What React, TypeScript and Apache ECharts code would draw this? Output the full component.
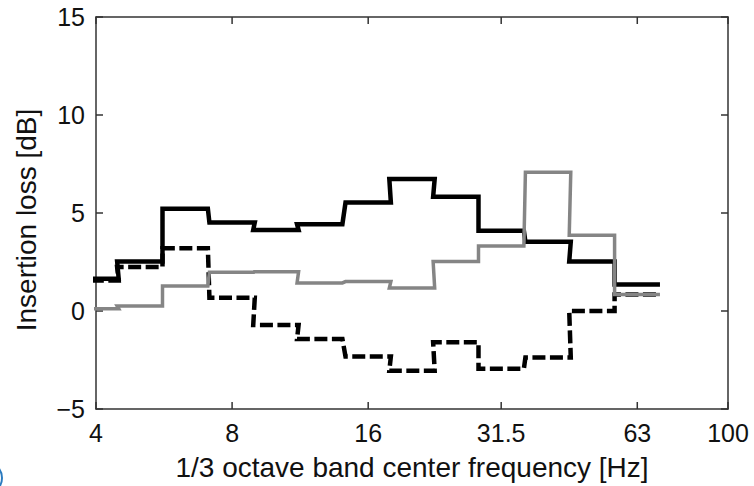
import React, { useEffect, useRef } from "react";
import * as echarts from "echarts";

// 1/3 octave band centre frequencies [Hz]
const bandCenters = [4, 5, 6.3, 8, 10, 12.5, 16, 20, 25, 31.5, 40, 50, 63];
// Insertion loss [dB] per band
const solidBlack = [1.65, 2.53, 5.22, 4.52, 4.13, 4.43, 5.53, 6.74, 5.83, 4.1, 3.53, 2.52, 1.35];
const grayLine = [0.12, 0.26, 1.28, 1.98, 2.0, 1.43, 1.5, 1.17, 2.52, 3.32, 7.08, 3.87, 0.84];
const dashedBlack = [1.55, 2.24, 3.2, 0.68, -0.72, -1.43, -2.32, -3.05, -1.6, -2.95, -2.37, 0.0, 0.84];

const xTickValues = [4, 8, 16, 31.5, 63, 100];
const xTickLabels = ["4", "8", "16", "31.5", "63", "100"];

const FONT = '"Liberation Sans", Arial, Helvetica, sans-serif';
const AXIS_COLOR = "#333";
const TEXT_COLOR = "#111";

function stairs(values: number[]): number[][] {
  const pts: number[][] = [];
  values.forEach((v, i) => {
    const f = bandCenters[i];
    pts.push([f * Math.pow(2, -1 / 6), v]);
    pts.push([f * Math.pow(2, 1 / 6), v]);
  });
  return pts;
}

export default function App() {
  const ref = useRef<HTMLDivElement>(null);

  useEffect(() => {
    if (!ref.current) return;
    const chart = echarts.init(ref.current, undefined, { renderer: "svg" });
    const axisLine = { show: true, onZero: false, lineStyle: { color: AXIS_COLOR, width: 1.5 } };
    const yTick = { show: true, inside: true, length: 7, lineStyle: { color: AXIS_COLOR, width: 1.5 } };

    chart.setOption({
      animation: false,
      backgroundColor: "#fff",
      grid: { left: 96, right: 26, top: 17, bottom: 74, containLabel: false },
      graphic: [
        {
          type: "arc",
          shape: { cx: -14, cy: 478, r: 16, startAngle: -0.75, endAngle: 0.75 },
          style: { stroke: "#2b7bbf", lineWidth: 2, fill: "none" },
          silent: true,
        },
      ],
      xAxis: [
        {
          type: "log",
          logBase: 2,
          min: 4,
          max: 100,
          position: "bottom",
          axisLine,
          axisTick: { show: false },
          axisLabel: { show: false },
          splitLine: { show: false },
          minorTick: { show: false },
          name: "1/3 octave band center frequency [Hz]",
          nameLocation: "middle",
          nameGap: 44,
          nameTextStyle: { fontSize: 28, color: TEXT_COLOR, fontFamily: FONT },
        },
        {
          type: "log",
          logBase: 2,
          min: 4,
          max: 100,
          position: "top",
          axisLine,
          axisTick: { show: false },
          axisLabel: { show: false },
          splitLine: { show: false },
        },
      ],
      yAxis: [
        {
          type: "value",
          min: -5,
          max: 15,
          interval: 5,
          position: "left",
          axisLine,
          axisTick: yTick,
          splitLine: { show: false },
          axisLabel: {
            fontSize: 25,
            color: TEXT_COLOR,
            fontFamily: FONT,
            margin: 11,
            formatter: (v: number) => (v < 0 ? "\u2212" + Math.abs(v) : String(v)),
          },
          name: "Insertion loss [dB]",
          nameLocation: "middle",
          nameGap: 56,
          nameRotate: 90,
          nameTextStyle: { fontSize: 28, color: TEXT_COLOR, fontFamily: FONT, padding: [0, 14, 0, 0] },
        },
        {
          type: "value",
          min: -5,
          max: 15,
          interval: 5,
          position: "right",
          axisLine,
          axisTick: yTick,
          axisLabel: { show: false },
          splitLine: { show: false },
        },
      ],
      series: [
        {
          type: "line",
          name: "dashed",
          data: stairs(dashedBlack),
          showSymbol: false,
          symbol: "none",
          clip: true,
          lineStyle: { color: "#000", width: 4.5, type: [13, 4.5], join: "miter" },
          z: 2,
        },
        {
          type: "line",
          name: "solid",
          data: stairs(solidBlack),
          showSymbol: false,
          symbol: "none",
          clip: true,
          lineStyle: { color: "#000", width: 4.5, join: "miter" },
          z: 3,
        },
        {
          type: "line",
          name: "gray",
          data: stairs(grayLine),
          showSymbol: false,
          symbol: "none",
          clip: true,
          lineStyle: { color: "#858585", width: 3.5, join: "miter" },
          z: 4,
        },
        {
          type: "custom",
          name: "xticks",
          xAxisIndex: 0,
          yAxisIndex: 0,
          clip: false,
          silent: true,
          z: 10,
          data: xTickValues.map((v) => [v, -5]),
          encode: { x: 0, y: 1 },
          renderItem: (params: any, api: any) => {
            const v = api.value(0);
            const b = api.coord([v, -5]);
            const t = api.coord([v, 15]);
            return {
              type: "group",
              children: [
                {
                  type: "line",
                  shape: { x1: b[0], y1: b[1], x2: b[0], y2: b[1] - 7 },
                  style: { stroke: AXIS_COLOR, lineWidth: 1.5 },
                },
                {
                  type: "line",
                  shape: { x1: t[0], y1: t[1], x2: t[0], y2: t[1] + 7 },
                  style: { stroke: AXIS_COLOR, lineWidth: 1.5 },
                },
                {
                  type: "text",
                  x: b[0],
                  y: b[1] + 24,
                  style: {
                    text: xTickLabels[params.dataIndex],
                    fill: TEXT_COLOR,
                    fontSize: 25,
                    fontFamily: FONT,
                    align: "center",
                    verticalAlign: "middle",
                  },
                },
              ],
            };
          },
        },
      ],
    });
    return () => chart.dispose();
  }, []);

  return (
    <div
      ref={ref}
      style={{ position: "fixed", left: 0, top: 0, width: 754, height: 486, background: "#fff" }}
    />
  );
}
